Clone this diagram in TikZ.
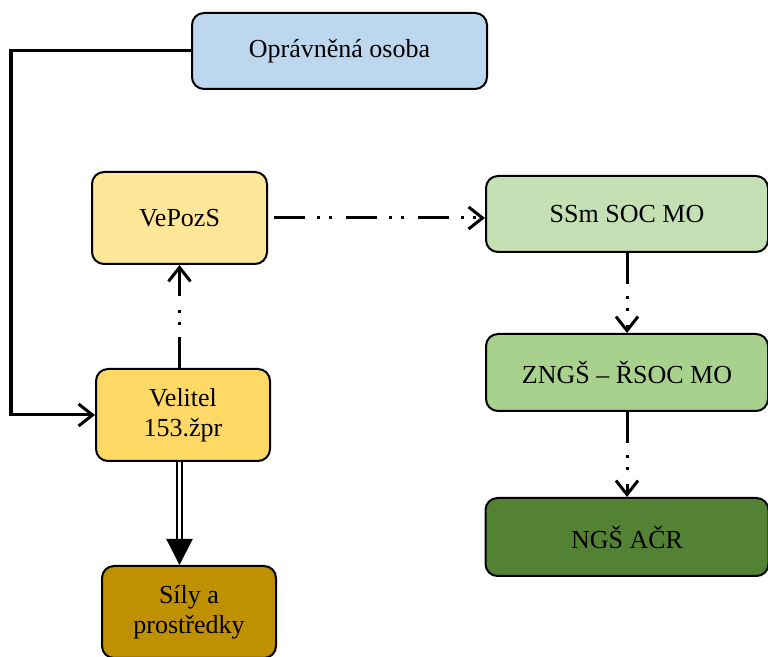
\documentclass[tikz,border=0pt]{standalone}
\usepackage{fontspec}
\setmainfont{Liberation Serif}
\usetikzlibrary{arrows.meta}
\definecolor{osobablue}{HTML}{BDD7EE}
\definecolor{pozsyellow}{HTML}{FFE699}
\definecolor{velyellow}{HTML}{FFD966}
\definecolor{silygold}{HTML}{BF9000}
\definecolor{ssmgreen}{HTML}{C5E0B4}
\definecolor{znggreen}{HTML}{A9D18E}
\definecolor{ngsgreen}{HTML}{548235}
\begin{document}
\begin{tikzpicture}[x=0.5pt,y=-0.5pt,font=\fontsize{13}{15}\selectfont]
  \tikzstyle{box}=[draw,line width=1pt,rounded corners=6pt,align=center,inner sep=0pt]
  \tikzstyle{dashdot}=[line width=1.5pt,dash pattern=on 15.5pt off 6pt on 1.5pt off 4.5pt on 1.5pt off 7pt,-{Straight Barb[length=7pt,width=11pt,line width=1.5pt]}]
  \useasboundingbox (0,0) rectangle (768,657);
  \node[box,fill=osobablue,minimum width=147.5pt,minimum height=38pt] (osoba) at (339.5,51) {Oprávněná osoba};
  \node[box,fill=pozsyellow,minimum width=87.5pt,minimum height=46pt] (vepozs) at (179.5,218) {VePozS};
  \node[box,fill=velyellow,minimum width=87pt,minimum height=46pt] (velitel) at (183,415) {Velitel\\153.žpr};
  \node[box,fill=silygold,minimum width=87pt,minimum height=46pt] (sily) at (189,612) {Síly a\\prostředky};
  \node[box,fill=ssmgreen,minimum width=141pt,minimum height=38pt] (ssm) at (627,214) {SSm SOC MO};
  \node[box,fill=znggreen,minimum width=141pt,minimum height=38.5pt] (zngs) at (627,372.5) {ZNGŠ – ŘSOC MO};
  \node[box,fill=ngsgreen,minimum width=141.5pt,minimum height=39pt] (ngs) at (627,537) {NGŠ AČR};
  \coordinate (corner) at (11,51);
  % connectors
  \draw[line width=1.5pt,-{Straight Barb[length=7pt,width=11pt,line width=1.5pt]}] (osoba.west) -- (corner) |- (velitel.west);
  \draw[dashdot] (velitel.north -| vepozs.south) -- (vepozs.south);
  \draw[dashdot] ([xshift=3pt]vepozs.east) -- (vepozs.east -| ssm.west);
  \draw[dashdot] (ssm.south) -- (zngs.north);
  \draw[dashdot] (zngs.south) -- (ngs.north);
  \draw[double,line width=1.1pt,double distance=1.5pt,-{Triangle[length=13pt,width=13pt]}] (velitel.south -| vepozs.south) -- (sily.north -| vepozs.south);
\end{tikzpicture}
\end{document}
